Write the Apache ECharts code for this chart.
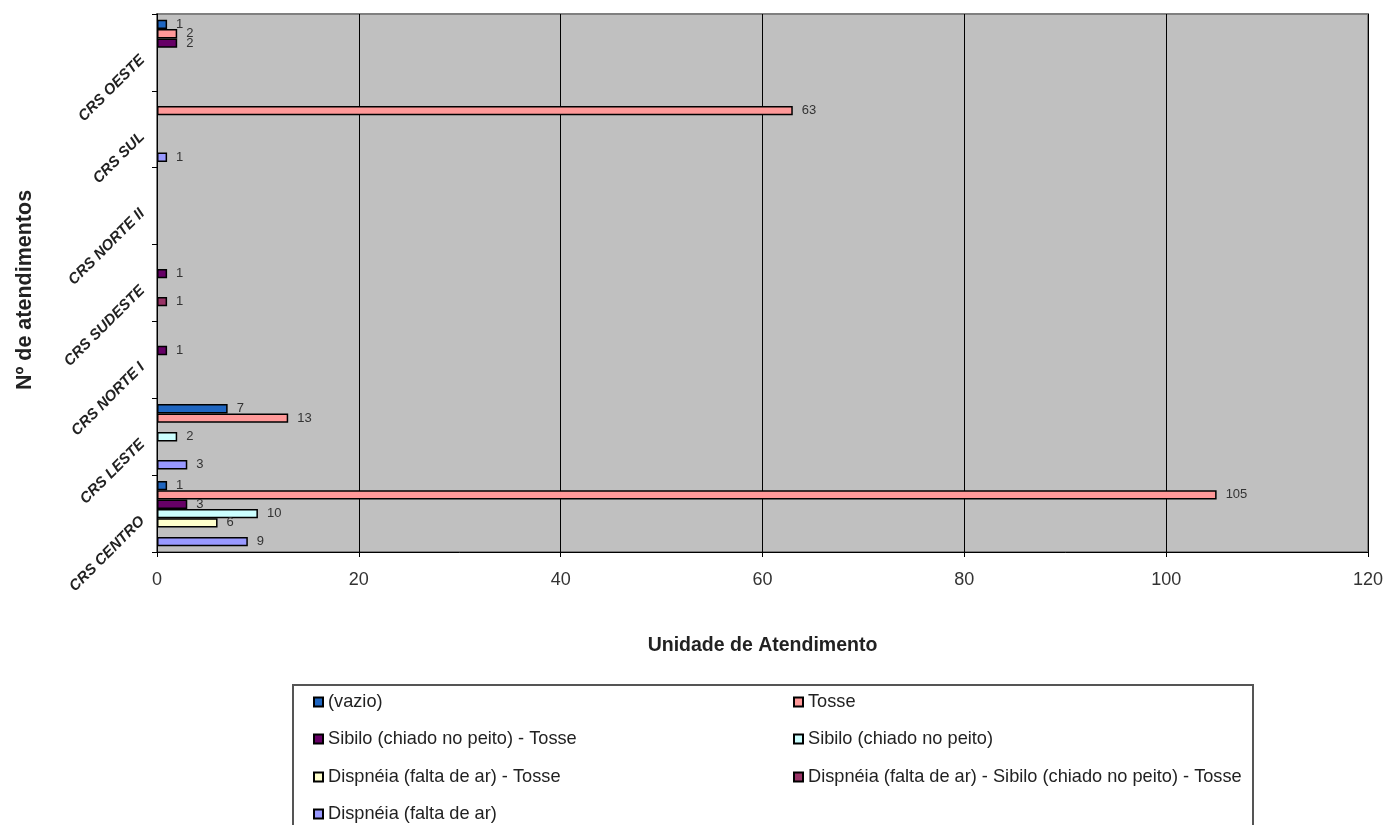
<!DOCTYPE html>
<html>
<head>
<meta charset="utf-8">
<script src="https://cdn.jsdelivr.net/npm/echarts@6/dist/echarts.min.js"></script>
<style>
  html, body { margin: 0; padding: 0; background: #fff; }
  #chart { width: 1388px; height: 825px; }
</style>
</head>
<body>
<div id="chart"></div>
<script>
// Regional health units, bottom to top on the category axis
const regions = ['CRS CENTRO', 'CRS LESTE', 'CRS NORTE I', 'CRS SUDESTE', 'CRS NORTE II', 'CRS SUL', 'CRS OESTE'];

// Symptom groups (series names)
const seriesNames = [
  '(vazio)',
  'Tosse',
  'Sibilo (chiado no peito) - Tosse',
  'Sibilo (chiado no peito)',
  'Dispnéia (falta de ar) - Tosse',
  'Dispnéia (falta de ar) - Sibilo (chiado no peito) - Tosse',
  'Dispnéia (falta de ar)'
];

// Counts per region, same order as regions
const vazio          = [1, 7, null, null, null, null, 1];
const tosse          = [105, 13, null, null, null, 63, 2];
const sibiloTosse    = [3, null, 1, 1, null, null, 2];
const sibilo         = [10, 2, null, null, null, null, null];
const dispneiaTosse  = [6, null, null, null, null, null, null];
const dispSibTosse   = [null, null, null, 1, null, null, null];
const dispneia       = [9, 3, null, null, null, 1, null];

const xTicks = [0, 20, 40, 60, 80, 100, 120];

const seriesData = [vazio, tosse, sibiloTosse, sibilo, dispneiaTosse, dispSibTosse, dispneia];
const colors = ['#1f66c1', '#ff9999', '#660066', '#ccffff', '#ffffcc', '#993366', '#9999ff'];

const font = '"Liberation Sans", Arial, sans-serif';

const chart = echarts.init(document.getElementById('chart'), null, { renderer: 'canvas' });

const series = seriesNames.map((name, i) => ({
  name: name,
  type: 'bar',
  data: seriesData[i],
  barGap: '0%',
  barCategoryGap: '15%',
  itemStyle: { color: colors[i], borderColor: '#000', borderWidth: 1.5 },
  label: {
    show: true,
    position: 'right',
    distance: 9,
    fontSize: 13,
    fontFamily: font,
    color: '#333',
    formatter: p => (p.value == null ? '' : p.value)
  }
}));

// Legend laid out as a two-column table: [column, row] per series
const legendCells = [[0, 0], [1, 0], [0, 1], [1, 1], [0, 2], [1, 2], [0, 3]];
const colX = [313, 793];
const rowY = [702, 739, 777, 814];
const legendText = { fontSize: 18.2, fontFamily: font, color: '#222', lineHeight: 20 };
const legends = seriesNames.map((name, i) => ({
  orient: 'horizontal',
  left: colX[legendCells[i][0]],
  top: rowY[legendCells[i][1]] - 10,
  padding: 0,
  itemWidth: 9, itemHeight: 9,
  icon: 'rect',
  textStyle: legendText,
  data: [name]
}));

chart.setOption({
  animation: false,
  textStyle: { fontFamily: font },
  grid: {
    left: 157, right: 20, top: 14, bottom: 273,
    show: true, backgroundColor: '#c0c0c0', borderColor: '#808080', borderWidth: 2
  },
  xAxis: {
    type: 'value',
    min: xTicks[0], max: xTicks[xTicks.length - 1], interval: 20,
    name: 'Unidade de Atendimento',
    nameLocation: 'middle',
    nameGap: 84,
    nameTextStyle: { fontSize: 19.5, fontWeight: 'bold', color: '#222', fontFamily: font },
    axisLine: { show: true, lineStyle: { color: '#000', width: 1 } },
    axisTick: { show: true, length: 5, lineStyle: { color: '#000' } },
    axisLabel: { fontSize: 18, color: '#333', margin: 19, fontFamily: font },
    splitLine: { show: true, lineStyle: { color: '#000', width: 1 } }
  },
  yAxis: {
    type: 'category',
    data: regions,
    name: 'Nº de atendimentos',
    nameLocation: 'middle',
    nameRotate: 90,
    nameGap: 121,
    nameTextStyle: {
      fontSize: 21.5, fontWeight: 'bold', color: '#222', fontFamily: font,
      padding: [0, 14, 0, 0]
    },
    axisLine: { show: true, lineStyle: { color: '#000', width: 1 } },
    axisTick: { show: true, length: 5, lineStyle: { color: '#000' } },
    axisLabel: {
      rotate: 45, fontSize: 15, fontWeight: 'bold', fontStyle: 'italic',
      color: '#222', margin: 20, verticalAlign: 'top', fontFamily: font
    },
    splitLine: { show: false }
  },
  legend: legends,
  graphic: [
    {
      type: 'rect',
      shape: { x: 293, y: 685, width: 960, height: 150 },
      style: { fill: 'none', stroke: '#555', lineWidth: 2 },
      z: -1
    }
  ],
  series: series
});
</script>
</body>
</html>
